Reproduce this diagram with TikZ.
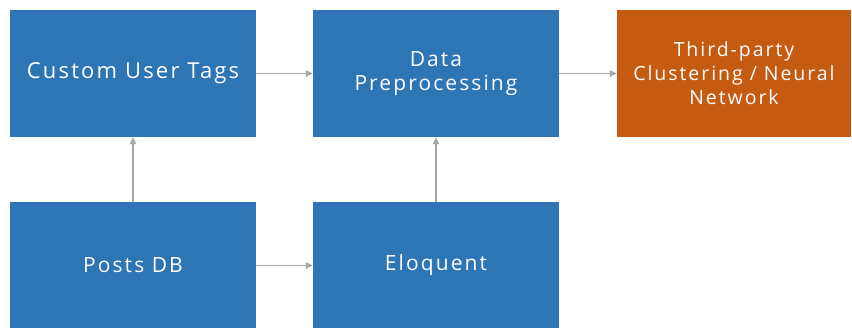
\documentclass[tikz,border=0pt]{standalone}
\usepackage{fontspec}
\setmainfont{Open Sans}[LetterSpace=10]
\usetikzlibrary{arrows.meta}
\definecolor{boxblue}{HTML}{2E75B6}
\definecolor{boxorange}{HTML}{C55A11}
\definecolor{arrowgray}{HTML}{A6A6A6}
\begin{document}
\begin{tikzpicture}[x=1pt,y=-1pt,
  blockbox/.style={fill=boxblue, text=white, minimum width=246pt, minimum height=127pt, inner sep=0pt, align=center, font=\fontsize{21}{23.5}\selectfont},
  outbox/.style={blockbox, fill=boxorange, minimum width=234pt, font=\fontsize{19.5}{24}\selectfont},
  conn/.style={draw=arrowgray, line width=1.4pt, -{Triangle[length=7pt,width=6.5pt]}}]
\useasboundingbox (0,0) rectangle (852,327);
\node[blockbox, font=\fontsize{22}{24}\selectfont] (tags) at (133,73.5) {Custom User Tags};
\node[blockbox] (prep) at (436,73.5) {Data\\Preprocessing};
\node[outbox] (nn) at (734,73.5) {Third-party\\Clustering / Neural\\Network};
\node[blockbox] (posts) at (133,265.5) {Posts DB};
\node[blockbox] (eloq) at (436,265.5) {Eloquent};
\draw[conn] (tags) -- (prep);
\draw[conn] (prep) -- (nn);
\draw[conn] (posts) -- (eloq);
\draw[conn] (posts) -- (tags);
\draw[conn] (eloq) -- (prep);
\end{tikzpicture}
\end{document}
